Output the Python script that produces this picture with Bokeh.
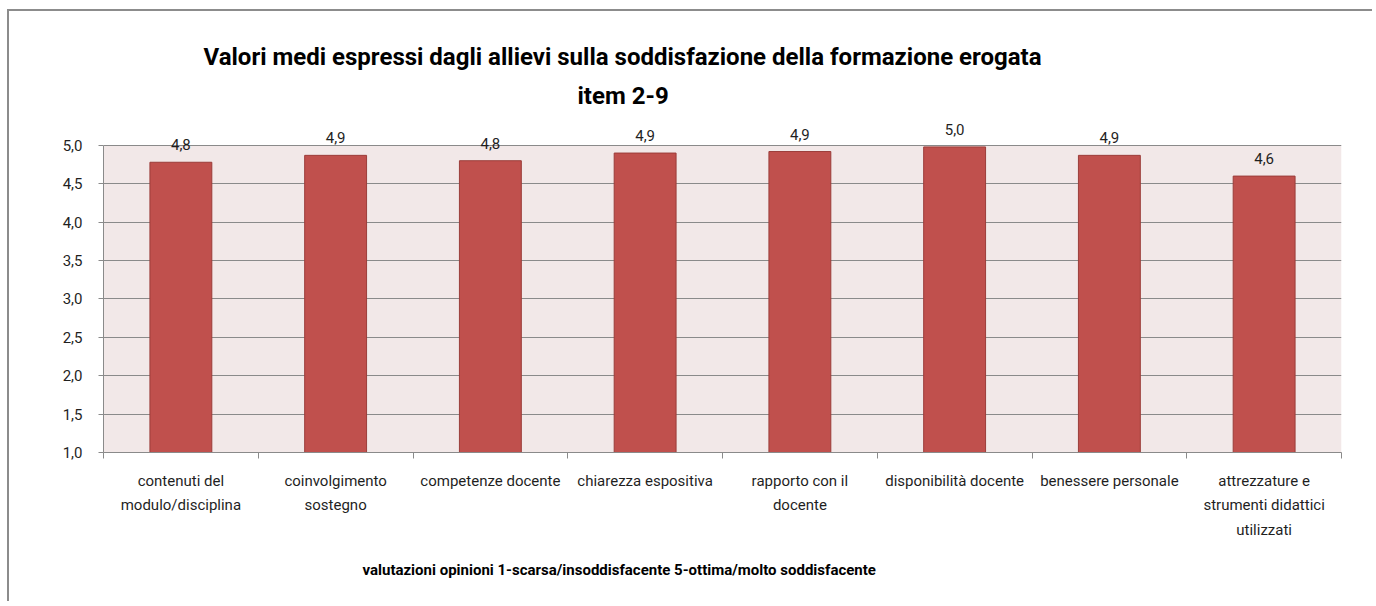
from bokeh.plotting import figure
from bokeh.models import (ColumnDataSource, FixedTicker, LabelSet, Title, Range1d, BoxAnnotation)
from bokeh.core.properties import value
from bokeh.embed import file_html
from bokeh.resources import INLINE

# ---- data ----
categories = [
    "contenuti del\nmodulo/disciplina",
    "coinvolgimento\nsostegno",
    "competenze docente",
    "chiarezza espositiva",
    "rapporto con il\ndocente",
    "disponibilità docente",
    "benessere personale",
    "attrezzature e\nstrumenti didattici\nutilizzati",
]
values = [4.78, 4.87, 4.80, 4.90, 4.92, 4.98, 4.87, 4.60]
value_labels = ["4,8", "4,9", "4,8", "4,9", "4,9", "5,0", "4,9", "4,6"]
y_ticks = [1.0, 1.5, 2.0, 2.5, 3.0, 3.5, 4.0, 4.5, 5.0]
y_tick_labels = ["1,0", "1,5", "2,0", "2,5", "3,0", "3,5", "4,0", "4,5", "5,0"]
title_line1 = "Valori medi espressi dagli allievi sulla soddisfazione della formazione erogata"
title_line2 = "item 2-9"
x_title = "valutazioni opinioni  1-scarsa/insoddisfacente 5-ottima/molto soddisfacente"

FONT = "Roboto"
TXT = "#1f1f1f"
GRID = "#8a8a8a"

n = len(categories)
ymin, ymax = y_ticks[0], y_ticks[-1]
xpos = [i + 0.5 for i in range(n)]
source = ColumnDataSource(dict(x=xpos, top=values, label=value_labels))

p = figure(
    width=1365, height=592,
    x_range=Range1d(0, n), y_range=Range1d(ymin, ymax + 0.35),
    output_backend="svg", toolbar_location=None,
    min_border_left=94, min_border_right=33,
    min_border_top=107, min_border_bottom=151,
    background_fill_color="white", border_fill_color="white",
)
p.outline_line_color = None
p.styles = {"margin-left": "7px", "margin-top": "9px",
            "border-left": "2px solid #8c8c8c", "border-top": "2px solid #8c8c8c"}

# plot area background (1,0 .. 5,0)
p.add_layout(BoxAnnotation(bottom=ymin, top=ymax, fill_color="#f2e8e8", fill_alpha=1.0,
                           line_color=None, level="image"))

p.vbar(x="x", top="top", bottom=ymin, width=0.40, source=source,
       fill_color="#c0504d", line_color="#9b3d3a", line_width=1)

labels = LabelSet(x="x", y="top", text="label", source=source,
                  text_align="center", text_baseline="alphabetic", y_offset=12,
                  text_font=value(FONT), text_font_size="15px", text_color=TXT)
p.add_layout(labels)

# y axis
p.yaxis.ticker = FixedTicker(ticks=y_ticks)
p.yaxis.bounds = (ymin, ymax)
p.yaxis.major_label_overrides = dict(zip(y_ticks, y_tick_labels))
p.yaxis.axis_line_color = GRID
p.yaxis.major_tick_line_color = GRID
p.yaxis.major_tick_in = 0
p.yaxis.major_tick_out = 5
p.yaxis.minor_tick_line_color = None
p.yaxis.major_label_standoff = 16
p.yaxis.major_label_text_font = FONT
p.yaxis.major_label_text_font_size = "15px"
p.yaxis.major_label_text_color = TXT
p.ygrid.ticker = FixedTicker(ticks=y_ticks)
p.ygrid.grid_line_color = GRID
p.ygrid.grid_line_width = 1
p.xgrid.grid_line_color = None

# x axis: labels at centers, tick marks at category boundaries
p.xaxis.ticker = FixedTicker(ticks=xpos, minor_ticks=list(range(n + 1)))
p.xaxis.major_label_overrides = dict(zip(xpos, categories))
p.xaxis.axis_line_color = GRID
p.xaxis.major_tick_line_color = None
p.xaxis.major_tick_in = 0
p.xaxis.major_tick_out = 6
p.xaxis.minor_tick_line_color = GRID
p.xaxis.minor_tick_in = 0
p.xaxis.minor_tick_out = 6
p.xaxis.major_label_standoff = 13
p.xaxis.major_label_text_font = FONT
p.xaxis.major_label_text_font_size = "15px"
p.xaxis.major_label_text_line_height = 1.37
p.xaxis.major_label_text_color = TXT

# titles
p.add_layout(Title(text=title_line2, align="left", offset=474, standoff=18,
                   text_font=FONT, text_font_size="24px", text_font_style="bold",
                   text_color="black"), "above")
p.add_layout(Title(text=title_line1, align="left", offset=100, standoff=0,
                   text_font=FONT, text_font_size="24px", text_font_style="bold",
                   text_color="black"), "above")
p.add_layout(Title(text=x_title, align="left", offset=259, standoff=34,
                   text_font=FONT, text_font_size="15px", text_font_style="bold",
                   text_color="black"), "below")

open("out.html", "w").write(file_html(p, INLINE))
